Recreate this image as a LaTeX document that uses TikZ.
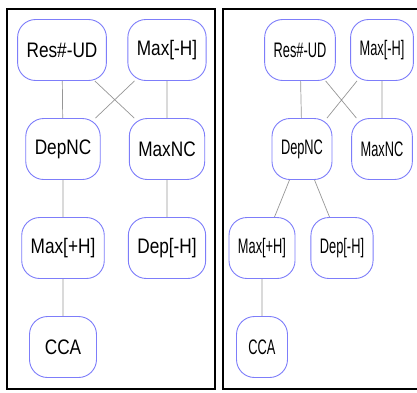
\documentclass[tikz,border=0pt]{standalone}
\usepackage{fontspec}
\setmainfont{Liberation Sans}
\newfontfamily\wideface[FakeStretch=0.82]{Liberation Sans}
\newfontfamily\slimface[FakeStretch=0.61]{Liberation Sans}
\definecolor{boxblue}{RGB}{125,125,250}
\definecolor{linkgray}{RGB}{150,150,150}

\begin{document}
\begin{tikzpicture}[x=1pt,y=-1pt,
  box/.style={draw=boxblue, line width=0.9pt, rounded corners=18pt,
    minimum height=61pt, inner xsep=9pt, fill=white},
  lbox/.style={box, minimum width=67pt, font=\wideface\fontsize{21}{25}\selectfont},
  rbox/.style={box, minimum width=51pt, font=\slimface\fontsize{21}{25}\selectfont},
  link/.style={draw=linkgray, line width=0.7pt}]
\useasboundingbox (0,0) rectangle (417,392);
% frames
\draw[line width=1.6pt] (7,9) rectangle (215,389);
\draw[line width=1.6pt] (418,9) -- (223,9) -- (223,389) -- (418,389);
% left hand
\node[lbox] (lres)  at (62,50)  {Res\#-UD};
\node[lbox] (lmaxh) at (167,50) {Max[-H]};
\node[lbox] (ldep)  at (63,149) {DepNC};
\node[lbox] (lmax)  at (167,149) {MaxNC};
\node[lbox] (lmaxp) at (63,248) {Max[+H]};
\node[lbox] (ldeph) at (167,248) {Dep[-H]};
\node[lbox] (lcca)  at (63,347) {CCA};
\draw[link] (lres) -- (ldep) (lres) -- (lmax)
            (lmaxh) -- (ldep) (lmaxh) -- (lmax)
            (ldep) -- (lmaxp) (lmax) -- (ldeph)
            (lmaxp) -- (lcca);
% right hand
\node[rbox] (rres)  at (300,50)  {Res\#-UD};
\node[rbox] (rmaxh) at (382,50)  {Max[-H]};
\node[rbox] (rdep)  at (302,149) {DepNC};
\node[rbox] (rmax)  at (382,149) {MaxNC};
\node[rbox] (rmaxp) at (262,248) {Max[+H]};
\node[rbox] (rdeph) at (342,248) {Dep[-H]};
\node[rbox] (rcca)  at (262,347) {CCA};
\draw[link] (rres) -- (rdep) (rres) -- (rmax)
            (rmaxh) -- (rdep) (rmaxh) -- (rmax)
            (rdep) -- (rmaxp) (rdep) -- (rdeph)
            (rmaxp) -- (rcca);
\end{tikzpicture}
\end{document}
